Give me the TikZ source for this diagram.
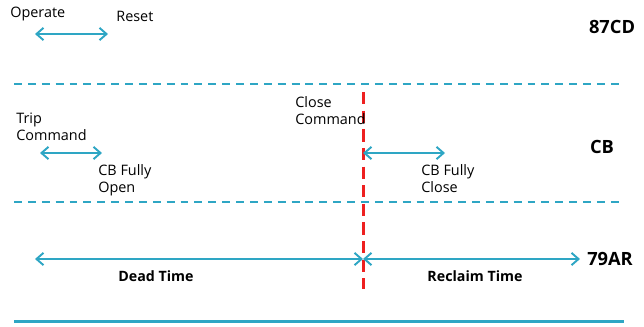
\documentclass[tikz,border=0pt]{standalone}
\usepackage{fontspec}
\setmainfont{Open Sans}
\usetikzlibrary{arrows.meta}
\definecolor{tline}{RGB}{46,166,196}
\definecolor{cmark}{RGB}{238,32,32}
\begin{document}
\begin{tikzpicture}[x=0.02cm,y=-0.02cm]
% ----- rows (y) & marks (x) -----
\def\yRelay{34}
\def\yBreaker{153}
\def\yAuto{259}
\def\yDivA{84}
\def\yDivB{202}
\def\yBase{321}
\def\xClose{363}

% styles
\tikzset{
  span/.style={tline,line width=1.1pt,{Straight Barb[length=4pt,width=7pt]}-{Straight Barb[length=4pt,width=7pt]}},
  sep/.style={tline,line width=1.1pt,dash pattern=on 4.5pt off 3.4pt},
  lbl/.style={font=\fontsize{8.2}{9.6}\selectfont,anchor=north west,align=left,inner sep=0pt},
  row/.style={font=\fontsize{10.4}{12}\selectfont\bfseries,inner sep=0pt},
  per/.style={font=\fontsize{8.1}{9.6}\selectfont\bfseries,inner sep=0pt}
}

\useasboundingbox (0,0) rectangle (644,326);

% ----- separators -----
\draw[sep] (14,\yDivA) -- (624,\yDivA);
\draw[sep] (14,\yDivB) -- (624,\yDivB);
\draw[tline,line width=1.7pt] (14,\yBase) -- (624,\yBase);

% ----- close instant -----
\coordinate (closeTop) at (\xClose,92);
\coordinate (closeBot) at (\xClose,289);
\draw[cmark,line width=1.7pt,dash pattern=on 7pt off 3.6pt] (closeTop) -- (closeBot);

% ===== 87CD row =====
\node[row] (rowRelay) at (612,27) {87CD};
\node[lbl] (operate) at (10,7) {Operate};
\node[lbl] (reset) at (116,11) {Reset};
\coordinate (opStart) at (35,\yRelay);
\coordinate (opEnd) at (108,\yRelay);
\draw[span] (opStart) -- (opEnd);

% ===== CB row =====
\node[row] (rowBreaker) at (602,147) {CB};
\node[lbl] (trip) at (16,113) {Trip\\Command};
\node[lbl] (open) at (98,164) {CB Fully\\Open};
\node[lbl] (close) at (295,96) {Close\\Command};
\node[lbl] (closed) at (421,164) {CB Fully\\Close};
\coordinate (tripStart) at (40,\yBreaker);
\coordinate (tripEnd) at (102,\yBreaker);
\coordinate (closeStart) at (\xClose,\yBreaker);
\coordinate (closeEnd) at (445,\yBreaker);
\draw[span] (tripStart) -- (tripEnd);
\draw[span] (closeStart) -- (closeEnd);

% ===== 79AR row =====
\node[row] (rowAuto) at (610,259) {79AR};
\coordinate (deadStart) at (35,\yAuto);
\coordinate (deadEnd) at (\xClose,\yAuto);
\coordinate (reclaimEnd) at (580,\yAuto);
\draw[span] (deadStart) -- (deadEnd);
\draw[span] (deadEnd) -- (reclaimEnd);
\node[per] (dead) at (156,276) {Dead Time};
\node[per] (reclaim) at (475,276) {Reclaim Time};
\end{tikzpicture}
\end{document}
